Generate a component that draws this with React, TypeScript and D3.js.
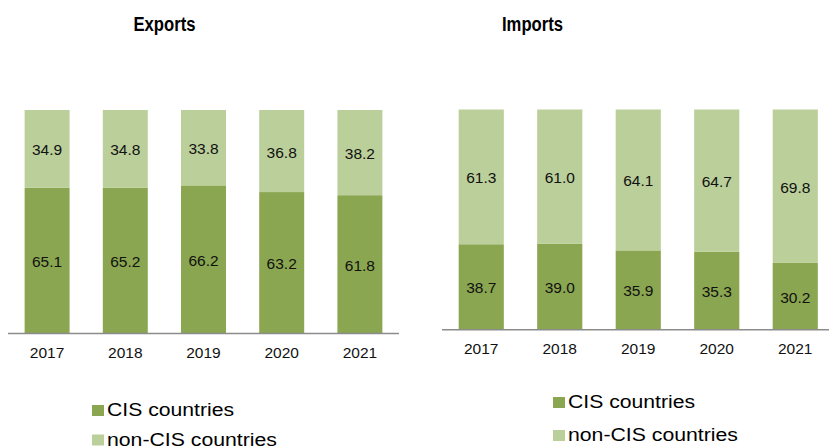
import React from "react";
import * as d3 from "d3";

const years = ["2017", "2018", "2019", "2020", "2021"];
const exportsCIS = [65.1, 65.2, 66.2, 63.2, 61.8];
const exportsNonCIS = [34.9, 34.8, 33.8, 36.8, 38.2];
const importsCIS = [38.7, 39.0, 35.9, 35.3, 30.2];
const importsNonCIS = [61.3, 61.0, 64.1, 64.7, 69.8];
const seriesNames = ["CIS countries", "non-CIS countries"];

const DARK = "#8aa650";
const LIGHT = "#bbcf9a";
const FONT = "Liberation Sans, Arial, Helvetica, sans-serif";

type PanelProps = {
  title: string;
  titleX: number;
  titleLen: number;
  cis: number[];
  non: number[];
  x0: number;
  x1: number;
  yBase: number;
  yTop: number;
  yearY: number;
  legX: number;
  legY: number;
  legGap: number;
};

function Panel(p: PanelProps) {
  const x = d3.scaleBand<string>().domain(years).range([p.x0, p.x1]).paddingInner(0.425).paddingOuter(0.2125);
  const y = d3.scaleLinear().domain([0, 100]).range([p.yBase, p.yTop]);
  const rows = years.map((yr, i) => ({ yr, cis: p.cis[i], non: p.non[i] }));
  const stack = d3.stack<any>().keys(["cis", "non"])(rows);
  const colors = [DARK, LIGHT];
  const lens = [127, 170];
  return (
    <g>
      <text x={p.titleX} y={30.5} textAnchor="middle" fontFamily={FONT} fontWeight="bold" fontSize={20}
        textLength={p.titleLen} lengthAdjust="spacingAndGlyphs" fill="#000">{p.title}</text>
      {stack.map((s, si) => (
        <g key={si}>
          {s.map((d, i) => (
            <g key={i}>
              <rect x={x(years[i])} width={x.bandwidth()} y={y(d[1])} height={y(d[0]) - y(d[1])} fill={colors[si]} />
              <text x={(x(years[i]) as number) + x.bandwidth() / 2} y={(y(d[0]) + y(d[1])) / 2 + 6.5}
                textAnchor="middle" fontFamily={FONT} fontSize={15.5} fill="#111">
                {(d[1] - d[0]).toFixed(1)}
              </text>
            </g>
          ))}
        </g>
      ))}
      <line x1={p.x0} x2={p.x1} y1={p.yBase + 0.5} y2={p.yBase + 0.5} stroke="#8c8c8c" strokeWidth={1.5} />
      {years.map((yr) => (
        <text key={yr} x={(x(yr) as number) + x.bandwidth() / 2} y={p.yearY} textAnchor="middle"
          fontFamily={FONT} fontSize={15.5} fill="#111">{yr}</text>
      ))}
      {seriesNames.map((n, i) => (
        <g key={n}>
          <rect x={p.legX} y={p.legY - 11 + i * p.legGap} width={12} height={11} fill={colors[i]} />
          <text x={p.legX + 15} y={p.legY + i * p.legGap} fontFamily={FONT} fontSize={18}
            textLength={lens[i]} lengthAdjust="spacingAndGlyphs" fill="#000">{n}</text>
        </g>
      ))}
    </g>
  );
}

export default function App() {
  return (
    <svg width={829} height={448} style={{ position: "absolute", left: 0, top: 0, background: "#fff" }}>
      <Panel title="Exports" titleX={164.5} titleLen={62} cis={exportsCIS} non={exportsNonCIS}
        x0={8} x1={399} yBase={333} yTop={110} yearY={358} legX={92} legY={416} legGap={29.5} />
      <Panel title="Imports" titleX={532.5} titleLen={61} cis={importsCIS} non={importsNonCIS}
        x0={442} x1={834.5} yBase={329.3} yTop={109.5} yearY={354} legX={553} legY={408} legGap={33} />
    </svg>
  );
}
